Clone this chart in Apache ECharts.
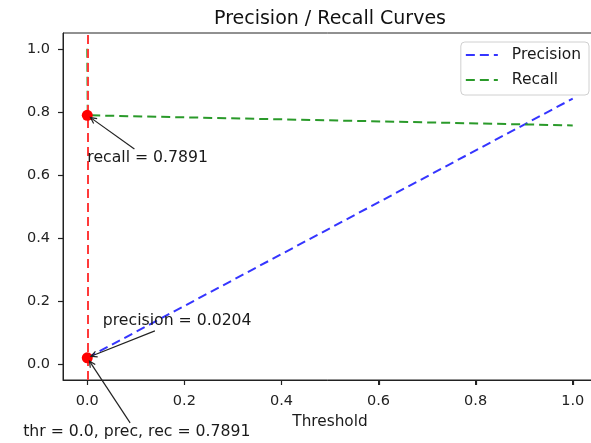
<!DOCTYPE html>
<html>
<head>
<meta charset="utf-8">
<script src="https://cdn.jsdelivr.net/npm/echarts@6/dist/echarts.min.js"></script>
<style>html,body{margin:0;padding:0;background:#fff;}#c{width:591px;height:443px;}</style>
</head>
<body>
<div id="c"></div>
<script>
// ---- data ----
const thresholds = [0, 0.001, 1.0];
const precision = [0.0204, 0.0212, 0.842];
const recall = [1.0, 0.7891, 0.757];
const markX = [0, 0];
const markY = [0.7891, 0.0204];
const thrLine = [0];
const xTicks = [0, 0.2, 0.4, 0.6, 0.8, 1.0];
const yTicks = [0, 0.2, 0.4, 0.6, 0.8, 1.0];
const annTexts = ['recall = 0.7891', 'precision = 0.0204', 'thr = 0.0, prec, rec = 0.7891'];
const annTargetX = [0, 0, 0];
const annTargetY = [0.7891, 0.0204, 0.0204];
const annTextX = [0, 0.032, -0.132];
const annTextY = [0.639, 0.121, -0.231];

const FONT = '"DejaVu Sans", sans-serif';
const ANN_FS = 15.7;
const TICK_LEN = 5;
const axisColor = '#222';
const X_MIN = -0.05, X_MAX = 1.05, Y_MIN = -0.05, Y_MAX = 1.05;
const measureCtx = document.createElement('canvas').getContext('2d');
measureCtx.font = ANN_FS + 'px "DejaVu Sans"';

const chart = echarts.init(document.getElementById('c'), null, {renderer: 'canvas'});

function renderAnn(params, api) {
  const idx = api.value(4);
  const text = annTexts[idx];
  const target = api.coord([api.value(0), api.value(1)]);
  const tp = api.coord([api.value(2), api.value(3)]);
  const w = measureCtx.measureText(text).width;
  const left = tp[0], right = tp[0] + w;
  const top = tp[1] - 0.76 * ANN_FS, bottom = tp[1] + 0.24 * ANN_FS;
  const cx = (left + right) / 2, cy = (top + bottom) / 2;
  let dx = target[0] - cx, dy = target[1] - cy;
  let t = 1;
  if (dx !== 0) t = Math.min(t, Math.abs(((dx > 0 ? right : left) - cx) / dx));
  if (dy !== 0) t = Math.min(t, Math.abs(((dy > 0 ? bottom : top) - cy) / dy));
  const len = Math.sqrt(dx * dx + dy * dy);
  const ux = dx / len, uy = dy / len;
  const shrinkA = 2.8, shrinkB = 4;
  const sx = cx + dx * t + ux * shrinkA, sy = cy + dy * t + uy * shrinkA;
  const ex = target[0] - ux * shrinkB, ey = target[1] - uy * shrinkB;
  const hl = 6, hw = 3;
  const bx = ex - ux * hl, by = ey - uy * hl;
  const px = -uy, py = ux;
  return {
    type: 'group',
    children: [
      {type: 'line', shape: {x1: sx, y1: sy, x2: ex, y2: ey}, style: {stroke: '#222', lineWidth: 1.2}},
      {type: 'polyline', shape: {points: [[bx + px * hw, by + py * hw], [ex, ey], [bx - px * hw, by - py * hw]]}, style: {stroke: '#222', lineWidth: 1.2, fill: null}},
      {type: 'text', x: tp[0], y: tp[1] - 0.33 * ANN_FS, style: {text: text, fill: '#1a1a1a', font: ANN_FS + 'px "DejaVu Sans"', align: 'left', verticalAlign: 'middle'}}
    ]
  };
}

const dash = [9, 5];
const option = {
  animation: false,
  backgroundColor: '#fff',
  title: {
    text: 'Precision / Recall Curves',
    left: 330, top: 10, textAlign: 'center', padding: 0,
    textStyle: {fontFamily: FONT, fontSize: 19, fontWeight: 'normal', color: '#111'}
  },
  legend: {
    data: ['Precision', 'Recall'],
    orient: 'vertical',
    right: 2, top: 42,
    padding: [4, 8, 6, 4],
    itemWidth: 32, itemHeight: 14, itemGap: 7,
    itemStyle: {opacity: 0},
    backgroundColor: '#fff', borderColor: '#d0d0d0', borderWidth: 1, borderRadius: 4,
    textStyle: {fontFamily: FONT, fontSize: 15.5, color: '#1a1a1a', lineHeight: 18, padding: [0, 0, 0, 9]}
  },
  grid: {left: 63, top: 33, right: -6, bottom: 63, show: true, borderColor: axisColor, borderWidth: 1, backgroundColor: 'transparent', containLabel: false, outerBoundsMode: 'none'},
  xAxis: {
    type: 'value', min: X_MIN, max: X_MAX, position: 'bottom',
    name: 'Threshold', nameLocation: 'middle', nameGap: 35,
    nameTextStyle: {fontFamily: FONT, fontSize: 15.3, color: '#1a1a1a'},
    splitLine: {show: false},
    axisLine: {show: true, onZero: false, lineStyle: {color: axisColor, width: 1}},
    axisTick: {show: true, inside: false, length: TICK_LEN, customValues: xTicks, lineStyle: {color: axisColor, width: 1}},
    axisLabel: {customValues: xTicks, margin: 14, fontFamily: FONT, fontSize: 14.5, color: '#222', formatter: v => v.toFixed(1)}
  },
  yAxis: {
    type: 'value', min: Y_MIN, max: Y_MAX, position: 'left',
    splitLine: {show: false},
    axisLine: {show: true, onZero: false, lineStyle: {color: axisColor, width: 1}},
    axisTick: {show: true, inside: false, length: TICK_LEN, customValues: yTicks, lineStyle: {color: axisColor, width: 1}},
    axisLabel: {customValues: yTicks, margin: 13, fontFamily: FONT, fontSize: 14.5, color: '#222', formatter: v => v.toFixed(1)}
  },
  series: [
    {
      name: 'Precision', type: 'line', symbol: 'none', z: 3,
      data: thresholds.map((t, i) => [t, precision[i]]),
      lineStyle: {color: '#3535ff', width: 2, type: dash},
      itemStyle: {color: '#3535ff'}
    },
    {
      name: 'Recall', type: 'line', symbol: 'none', z: 3,
      data: thresholds.map((t, i) => [t, recall[i]]),
      lineStyle: {color: '#2a9a2a', width: 2, type: dash},
      itemStyle: {color: '#2a9a2a'}
    },
    {
      name: 'thr', type: 'scatter', z: 5,
      symbol: 'circle', symbolSize: 11,
      data: markX.map((x, i) => [x, markY[i]]),
      itemStyle: {color: '#ff0000', opacity: 1},
      markLine: {
        silent: true, symbol: 'none', z: 4,
        label: {show: false},
        lineStyle: {color: '#ff3a3a', width: 2, type: dash},
        data: thrLine.map(v => ({xAxis: v}))
      }
    },
    {
      name: 'ann', type: 'custom', z: 6, clip: false, silent: true,
      renderItem: renderAnn,
      encode: {x: 0, y: 1},
      data: annTexts.map((t, i) => [annTargetX[i], annTargetY[i], annTextX[i], annTextY[i], i])
    }
  ]
};
chart.setOption(option);

// outward tick marks, placed through the axis scales (convertToPixel) on a separate layer
const tickEls = [];
xTicks.forEach(v => {
  const p = chart.convertToPixel({gridIndex: 0}, [v, Y_MIN]);
  const x = Math.round(p[0]) + 0.5;
  tickEls.push({type: 'line', silent: true, zlevel: 1, z: 100,
    shape: {x1: x, y1: p[1], x2: x, y2: p[1] + TICK_LEN},
    style: {stroke: axisColor, lineWidth: 1.2}});
});
yTicks.forEach(v => {
  const p = chart.convertToPixel({gridIndex: 0}, [X_MIN, v]);
  const y = Math.round(p[1]) + 0.5;
  tickEls.push({type: 'line', silent: true, zlevel: 1, z: 100,
    shape: {x1: p[0] - TICK_LEN, y1: y, x2: p[0], y2: y},
    style: {stroke: axisColor, lineWidth: 1.2}});
});
chart.setOption({graphic: {elements: tickEls}});
</script>
</body>
</html>
